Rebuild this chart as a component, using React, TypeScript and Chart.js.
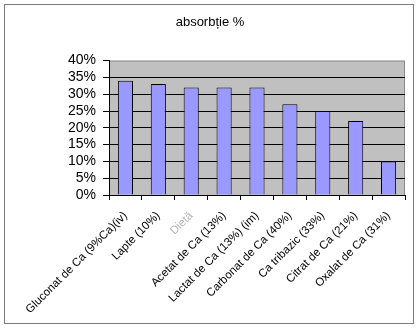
import React, { useEffect, useRef } from "react";
import { Chart, registerables } from "chart.js";

Chart.register(...registerables);

const categories = [
  "Gluconat de Ca (9%Ca)(iv)",
  "Lapte (10%)",
  "Dietă",
  "Acetat de Ca (13%)",
  "Lactat de Ca (13%) (im)",
  "Carbonat de Ca (40%)",
  "Ca tribazic (33%)",
  "Citrat de Ca (21%)",
  "Oxalat de Ca (31%)",
];
const absorption = [34, 33, 32, 32, 32, 27, 25, 22, 10];
const titleText = "absorbție %";
const yMin = 0;
const yMax = 40;
const yStep = 5;

const FONT = "'Liberation Sans', Arial, sans-serif";

const plotBg = {
  id: "plotBg",
  beforeDraw(chart: any) {
    const { ctx, chartArea } = chart;
    ctx.save();
    ctx.fillStyle = "#C0C0C0";
    ctx.fillRect(chartArea.left, chartArea.top, chartArea.right - chartArea.left, chartArea.bottom - chartArea.top);
    ctx.strokeStyle = "#8a8a8a";
    ctx.lineWidth = 1;
    ctx.strokeRect(chartArea.left + 0.5, chartArea.top + 0.5, chartArea.right - chartArea.left - 1, chartArea.bottom - chartArea.top);
    ctx.restore();
  },
};

export default function App() {
  const ref = useRef<HTMLCanvasElement>(null);
  useEffect(() => {
    document.body.style.margin = "0";
    const chart = new Chart(ref.current!, {
      type: "bar",
      data: {
        labels: categories,
        datasets: [
          {
            data: absorption,
            backgroundColor: "#9999FF",
            borderColor: "#000000",
            borderWidth: 1,
            categoryPercentage: 1,
            barPercentage: 0.46,
          },
        ],
      },
      options: {
        animation: false,
        responsive: false,
        maintainAspectRatio: false,
        layout: { padding: { left: 0, right: 0, top: 0, bottom: 0 } },
        plugins: {
          legend: { display: false },
          tooltip: { enabled: false },
          title: {
            display: true,
            text: titleText,
            color: "#000",
            font: { family: FONT, size: 13, weight: "normal" },
            padding: { top: 15, bottom: 30 },
          },
        },
        scales: {
          x: {
            grid: {
              offset: true,
              drawOnChartArea: false,
              drawTicks: true,
              tickLength: 5,
              color: "#000",
            },
            border: { display: true, color: "#000" },
            ticks: {
              minRotation: 45,
              maxRotation: 45,
              autoSkip: false,
              padding: 9,
              color: (c: any) => (c.index === 2 ? "#b4b4b4" : "#000"),
              font: { family: FONT, size: 11.5 },
            },
            afterFit(scale: any) {
              scale.height = 136;
            },
          },
          y: {
            min: yMin,
            max: yMax,
            grid: {
              color: (c: any) => (c.tick && c.tick.value === yMax ? "rgba(0,0,0,0)" : "#000"),
              tickColor: "#000",
              tickLength: 6,
              drawTicks: true,
            },
            border: { display: true, color: "#000" },
            ticks: {
              stepSize: yStep,
              autoSkip: false,
              padding: 7,
              color: "#000",
              font: { family: FONT, size: 14 },
              callback: (v: any) => v + "%",
            },
            afterFit(scale: any) {
              scale.width = 109;
            },
          },
          y2: {
            position: "right",
            display: true,
            grid: { display: false },
            border: { display: false },
            ticks: { display: false },
            afterFit(scale: any) {
              scale.width = 15;
            },
          },
        },
      },
      plugins: [plotBg],
    });
    return () => chart.destroy();
  }, []);
  return (
    <div style={{ position: "relative", width: 420, height: 331 }}>
      <canvas ref={ref} width={420} height={331} style={{ position: "absolute", left: 0, top: 0 }} />
      <div
        style={{
          position: "absolute",
          left: 4,
          top: 4,
          width: 410,
          height: 320,
          boxSizing: "border-box",
          border: "1px solid #7a7a7a",
          pointerEvents: "none",
        }}
      />
    </div>
  );
}
